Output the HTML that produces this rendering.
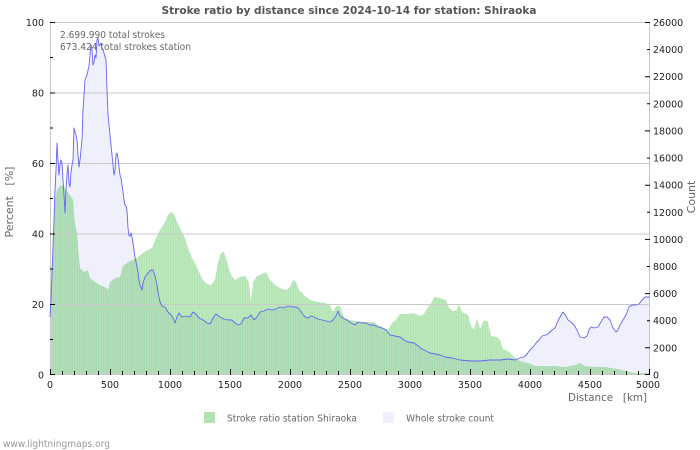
<!DOCTYPE html>
<html>
<head>
<meta charset="utf-8">
<style>
  html,body{margin:0;padding:0;background:#fff;}
  svg{display:block;}
  text{font-family:"DejaVu Sans","Liberation Sans",sans-serif;}
</style>
</head>
<body>
<svg width="700" height="450" viewBox="0 0 700 450" xmlns="http://www.w3.org/2000/svg">
  <rect width="700" height="450" fill="#fff"/>

  <!-- Whole stroke count fill -->
  <polygon fill="#f0f0fc" points="50,375 50,317 51,300 52,273 53,247 54,220 55,190 56,170 57,143 58,160 59,175 60,165 61,160 62,163 63,180 64,195 65,213 66,190 67,175 68,165 69,183 70,187 71,172 72,165 73,160 74,128 75,132 76,135 77,140 78,155 79,167 80,160 81,150 82,140 83,110 84,95 85,80 86,77 87,75 88,70 89,66 90,55 91,45 92,50 93,65 94,62 95,55 96,58 97,40 98,38 99,46 100,45 101,43 102,48 103,50 104,53 105,57 106,60 107,90 108,115 109,125 110,135 111,145 112,155 113,165 114,175 115,170 116,155 117,153 118,158 119,167 120,175 121,178 122,185 123,192 124,200 125,205 126,206 127,210 128,228 129,236 130,236 131,233 132,237 133,243 134,250 135,257 136,262 137,267 138,272 139,280 140,285 142,290 143,283 145,277 148,273 151,270 153,270 155,276 157,285 158,292 160,302 162,306 165,307 168,312 171,315 173,318 175,323 177,317 179,313 182,317 186,316 190,317 193,312 196,314 199,318 203,320 207,323 210,324 213,318 216,314 220,317 224,319 228,320 232,320 235,323 238,325 241,324 244,318 248,318 251,315 254,320 257,317 260,312 264,311 268,309 272,310 276,309 280,307 284,308 288,306 292,307 296,307 299,309 302,313 305,317 308,318 311,316 314,317 318,319 322,320 326,321 330,322 333,320 336,316 338,311 340,316 343,318 347,320 351,323 355,325 358,322 362,323 366,323 370,325 374,325 378,327 382,328 386,330 390,335 395,336 400,337 404,340 408,342 414,343 418,346 422,349 426,351 430,353 435,354 440,355 445,357 452,358 460,360 470,361 480,361 490,360 500,360 508,359 515,360 520,358 524,357 527,354 530,350 533,347 536,343 539,340 542,336 546,335 549,333 552,330 555,328 557,323 560,317 563,312 566,316 568,320 571,322 574,325 577,330 580,337 584,338 587,336 589,330 591,327 594,328 598,327 601,322 604,317 607,317 610,320 613,328 616,332 618,330 620,325 623,320 626,315 629,307 632,305 636,305 639,304 642,300 645,297 650,297 650,375"/>

  <!-- Stroke ratio bars (green) -->
  <defs>
    <pattern id="stripes" x="50" y="0" width="2.4" height="10" patternUnits="userSpaceOnUse">
      <rect x="0" y="0" width="2.4" height="10" fill="rgba(0,170,0,0.24)"/>
      <rect x="0" y="0" width="1.3" height="10" fill="rgba(0,140,0,0.09)"/>
    </pattern>
  </defs>
  <polygon fill="url(#stripes)" points="50,375 50,300 52,275 54,230 55,200 57,190 60,186 63,185 66,190 70,195 73,200 75,225 77,233 78,247 80,268 84,272 88,270 90,278 95,282 100,285 105,287 108,290 110,282 115,278 120,277 123,266 128,262 133,260 138,257 143,253 148,250 152,248 156,238 160,230 165,222 168,215 171,212 174,214 177,222 181,230 185,238 188,248 192,258 196,265 199,272 203,280 207,284 211,285 215,280 218,262 221,253 224,252 227,262 231,275 235,280 240,277 245,276 249,282 251,302 253,282 257,276 262,274 266,272 270,280 275,285 280,288 286,290 290,287 293,280 296,282 299,290 305,296 310,300 318,302 325,303 330,305 333,312 336,306 340,306 344,318 350,320 356,321 362,322 368,322 374,322 378,325 384,328 388,330 392,323 396,320 400,314 406,314 412,313 416,314 420,316 424,314 428,307 432,302 434,297 440,298 446,300 449,308 453,311 457,310 459,304 462,312 468,315 471,326 474,330 477,318 480,329 484,320 488,322 491,336 497,337 500,340 503,349 508,351 513,356 518,360 523,362 528,363 535,366 545,366 555,366 565,367 575,365 580,363 585,366 595,367 605,367 617,369 625,371 635,373 650,373 650,375"/>

  <!-- Grid lines -->
  <g stroke="#c8c8c8" stroke-width="1">
    <line x1="50" y1="22.5" x2="650" y2="22.5"/>
    <line x1="50" y1="93" x2="650" y2="93"/>
    <line x1="50" y1="163.5" x2="650" y2="163.5"/>
    <line x1="50" y1="234" x2="650" y2="234"/>
    <line x1="50" y1="304.5" x2="650" y2="304.5"/>
    <line x1="50.5" y1="22" x2="50.5" y2="375"/>
    <line x1="649.5" y1="22" x2="649.5" y2="375"/>
    <line x1="50" y1="374.5" x2="650" y2="374.5"/>
  </g>

  <!-- Whole stroke count line -->
  <polyline fill="none" stroke="#6464f0" stroke-width="0.9" stroke-linejoin="round" points="50,317 51,300 52,273 53,247 54,220 55,190 56,170 57,143 58,160 59,175 60,165 61,160 62,163 63,180 64,195 65,213 66,190 67,175 68,165 69,183 70,187 71,172 72,165 73,160 74,128 75,132 76,135 77,140 78,155 79,167 80,160 81,150 82,140 83,110 84,95 85,80 86,77 87,75 88,70 89,66 90,55 91,45 92,50 93,65 94,62 95,55 96,58 97,40 98,38 99,46 100,45 101,43 102,48 103,50 104,53 105,57 106,60 107,90 108,115 109,125 110,135 111,145 112,155 113,165 114,175 115,170 116,155 117,153 118,158 119,167 120,175 121,178 122,185 123,192 124,200 125,205 126,206 127,210 128,228 129,236 130,236 131,233 132,237 133,243 134,250 135,257 136,262 137,267 138,272 139,280 140,285 142,290 143,283 145,277 148,273 151,270 153,270 155,276 157,285 158,292 160,302 162,306 165,307 168,312 171,315 173,318 175,323 177,317 179,313 182,317 186,316 190,317 193,312 196,314 199,318 203,320 207,323 210,324 213,318 216,314 220,317 224,319 228,320 232,320 235,323 238,325 241,324 244,318 248,318 251,315 254,320 257,317 260,312 264,311 268,309 272,310 276,309 280,307 284,308 288,306 292,307 296,307 299,309 302,313 305,317 308,318 311,316 314,317 318,319 322,320 326,321 330,322 333,320 336,316 338,311 340,316 343,318 347,320 351,323 355,325 358,322 362,323 366,323 370,325 374,325 378,327 382,328 386,330 390,335 395,336 400,337 404,340 408,342 414,343 418,346 422,349 426,351 430,353 435,354 440,355 445,357 452,358 460,360 470,361 480,361 490,360 500,360 508,359 515,360 520,358 524,357 527,354 530,350 533,347 536,343 539,340 542,336 546,335 549,333 552,330 555,328 557,323 560,317 563,312 566,316 568,320 571,322 574,325 577,330 580,337 584,338 587,336 589,330 591,327 594,328 598,327 601,322 604,317 607,317 610,320 613,328 616,332 618,330 620,325 623,320 626,315 629,307 632,305 636,305 639,304 642,300 645,297 650,297"/>

  <!-- X ticks -->
  <g stroke="#000" stroke-width="1">
    <path d="M50.5,369V375 M110.5,369V375 M170.5,369V375 M230.5,369V375 M290.5,369V375 M350.5,369V375 M410.5,369V375 M470.5,369V375 M530.5,369V375 M590.5,369V375 M649.5,369V375"/>
    <path d="M62.5,371V375 M74.5,371V375 M86.5,371V375 M98.5,371V375 M122.5,371V375 M134.5,371V375 M146.5,371V375 M158.5,371V375 M182.5,371V375 M194.5,371V375 M206.5,371V375 M218.5,371V375 M242.5,371V375 M254.5,371V375 M266.5,371V375 M278.5,371V375 M302.5,371V375 M314.5,371V375 M326.5,371V375 M338.5,371V375 M362.5,371V375 M374.5,371V375 M386.5,371V375 M398.5,371V375 M422.5,371V375 M434.5,371V375 M446.5,371V375 M458.5,371V375 M482.5,371V375 M494.5,371V375 M506.5,371V375 M518.5,371V375 M542.5,371V375 M554.5,371V375 M566.5,371V375 M578.5,371V375 M602.5,371V375 M614.5,371V375 M626.5,371V375 M638.5,371V375"/>
    <!-- Left ticks -->
    <path d="M50,22.5H55 M50,93H55 M50,163.5H55 M50,234H55 M50,304.5H55 M50,374.5H55"/>
    <path d="M50,57.5H53 M50,128H53 M50,198.5H53 M50,269H53 M50,339.5H53"/>
    <!-- Right ticks every 1000 -->
    <path d="M645,22.5H650 M645,76.7H650 M645,130.9H650 M645,185.2H650 M645,239.4H650 M645,293.6H650 M645,347.8H650 M645,374.5H650"/>
    <path d="M647,49.6H650 M647,103.8H650 M647,158.1H650 M647,212.3H650 M647,266.5H650 M647,320.7H650"/>
  </g>

  <!-- Title -->
  <text x="349" y="14" text-anchor="middle" font-size="11" font-weight="bold" fill="#555" textLength="375" lengthAdjust="spacingAndGlyphs">Stroke ratio by distance since 2024-10-14 for station: Shiraoka</text>

  <!-- Annotations -->
  <text x="60" y="38" font-size="9.5" fill="#666" textLength="105" lengthAdjust="spacingAndGlyphs">2.699.990 total strokes</text>
  <text x="60" y="50" font-size="9.5" fill="#666" textLength="131" lengthAdjust="spacingAndGlyphs">673.424 total strokes station</text>

  <!-- Left labels -->
  <g font-size="9.5" fill="#222" text-anchor="end">
    <text x="44" y="26">100</text>
    <text x="44" y="96.5">80</text>
    <text x="44" y="167">60</text>
    <text x="44" y="237.5">40</text>
    <text x="44" y="308">20</text>
    <text x="44" y="378.5">0</text>
  </g>

  <!-- Right labels -->
  <g font-size="9.5" fill="#222" text-anchor="start">
    <text x="653" y="26">26000</text>
    <text x="653" y="53.1">24000</text>
    <text x="653" y="80.2">22000</text>
    <text x="653" y="107.3">20000</text>
    <text x="653" y="134.4">18000</text>
    <text x="653" y="161.6">16000</text>
    <text x="653" y="188.7">14000</text>
    <text x="653" y="215.8">12000</text>
    <text x="653" y="242.9">10000</text>
    <text x="653" y="270">8000</text>
    <text x="653" y="297.1">6000</text>
    <text x="653" y="324.2">4000</text>
    <text x="653" y="351.3">2000</text>
    <text x="653" y="378.5">0</text>
  </g>

  <!-- X labels -->
  <g font-size="9.5" fill="#222" text-anchor="middle">
    <text x="50" y="388">0</text>
    <text x="110" y="388">500</text>
    <text x="170" y="388">1000</text>
    <text x="230" y="388">1500</text>
    <text x="290" y="388">2000</text>
    <text x="350" y="388">2500</text>
    <text x="410" y="388">3000</text>
    <text x="470" y="388">3500</text>
    <text x="530" y="388">4000</text>
    <text x="590" y="388">4500</text>
    <text x="648" y="388">5000</text>
  </g>

  <!-- Axis titles -->
  <text x="568" y="401" font-size="11" fill="#666" textLength="79" lengthAdjust="spacingAndGlyphs" xml:space="preserve">Distance   [km]</text>
  <text transform="translate(13,202) rotate(-90)" text-anchor="middle" font-size="11" fill="#666" xml:space="preserve">Percent   [%]</text>
  <text transform="translate(695,197) rotate(-90)" text-anchor="middle" font-size="11" fill="#666">Count</text>

  <!-- Legend -->
  <rect x="204" y="412" width="11" height="11" fill="#b2e2b2"/>
  <text x="227" y="421.5" font-size="9.5" fill="#666" textLength="130" lengthAdjust="spacingAndGlyphs">Stroke ratio station Shiraoka</text>
  <rect x="383" y="412" width="11" height="11" fill="#f0f0fc"/>
  <text x="406" y="421.5" font-size="9.5" fill="#666" textLength="88" lengthAdjust="spacingAndGlyphs">Whole stroke count</text>

  <!-- Footer -->
  <text x="3" y="447" font-size="9.5" fill="#999" textLength="107" lengthAdjust="spacingAndGlyphs">www.lightningmaps.org</text>
</svg>
</body>
</html>
